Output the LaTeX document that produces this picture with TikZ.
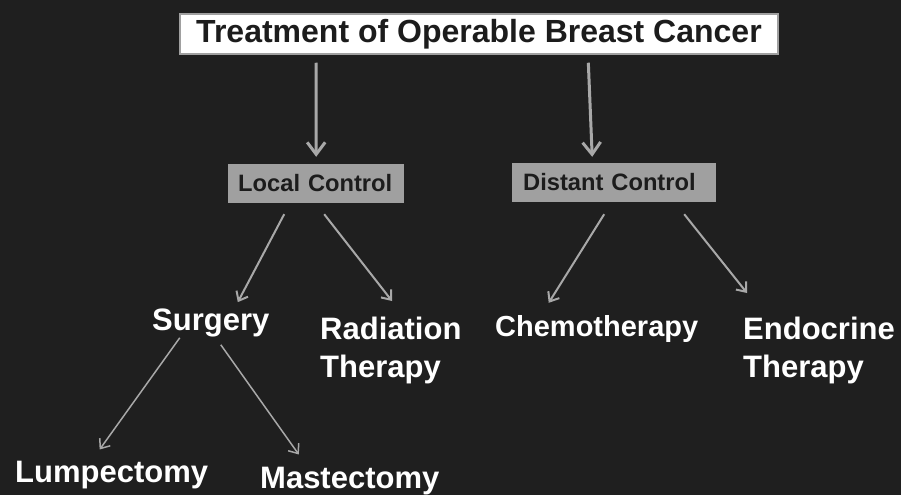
\documentclass[tikz,border=0pt]{standalone}
\usepackage{fontspec}
\setmainfont{Liberation Sans}
\usepackage{xcolor}
\usetikzlibrary{arrows.meta}

\definecolor{bgdark}{RGB}{31,31,31}
\definecolor{boxgray}{RGB}{160,160,160}
\definecolor{arrowgray}{RGB}{168,168,168}
\definecolor{inkdark}{RGB}{28,28,28}

\begin{document}
\begin{tikzpicture}[x=1pt, y=-1pt,
  titlebox/.style={draw=boxgray, line width=1.5pt, fill=white, text=inkdark, minimum width=598pt,
    minimum height=40pt, inner sep=0pt, font=\fontsize{32}{38}\selectfont\bfseries},
  ctrlbox/.style={fill=boxgray, text=inkdark, align=left, minimum height=39pt, inner ysep=0pt,
    anchor=west, font=\fontsize{23.7}{28}\selectfont\bfseries},
  lbl/.style={text=white, inner sep=0pt, align=left, font=\fontsize{31}{38}\selectfont\bfseries},
  bigarr/.style={draw=arrowgray, line width=3pt, -{Straight Barb[length=12pt,width=18pt]}},
  arr/.style={draw=arrowgray, line width=2pt, -{Straight Barb[length=8pt,width=13pt]}},
  thinarr/.style={draw=arrowgray, line width=1.5pt, -{Straight Barb[length=8pt,width=13pt]}}]
\useasboundingbox[fill=bgdark] (0,0) rectangle (901,495);

% top of the tree
\node[titlebox] (title) at (479,34) {Treatment of Operable Breast Cancer};
\node[ctrlbox, text width=156pt, inner xsep=10pt] (local) at (228,183.5) {Local Control};
\node[ctrlbox, text width=182pt, inner xsep=11pt] (distant) at (512,182.5) {Distant Control};

% treatments
\node[lbl, anchor=base west] (surgery) at (152,330) {Surgery};
\node[lbl, anchor=north west] (radiation) at (320,317) {Radiation\\Therapy};
\node[lbl, anchor=base west, font=\fontsize{29}{34}\selectfont\bfseries] (chemo) at (495,336) {Chemotherapy};
\node[lbl, anchor=north west] (endocrine) at (743,317) {Endocrine\\Therapy};
\node[lbl, anchor=base west] (lumpectomy) at (15,482) {Lumpectomy};
\node[lbl, anchor=base west] (mastectomy) at (260,488) {Mastectomy};

% connectors
\draw[bigarr, shorten <=8pt] ([xshift=-163pt]title.south) -- ([yshift=7pt]local.north);
\draw[bigarr, shorten <=8pt] ([xshift=109pt]title.south) -- ([xshift=-22pt,yshift=6pt]distant.north);
\draw[arr] ([xshift=-32pt,yshift=-11pt]local.south) -- ([xshift=27pt,yshift=6pt]surgery.north);
\draw[arr] ([xshift=8pt,yshift=-11pt]local.south) -- ([xshift=72pt,yshift=16pt]radiation.north west);
\draw[arr] ([xshift=-10pt,yshift=-12pt]distant.south) -- ([xshift=-48pt,yshift=12pt]chemo.north);
\draw[arr] ([xshift=70pt,yshift=-12pt]distant.south) -- ([xshift=4pt,yshift=24pt]endocrine.north west);
\draw[thinarr] ([xshift=-31pt,yshift=-1pt]surgery.south) -- ([xshift=-12pt,yshift=11pt]lumpectomy.north);
\draw[thinarr] ([xshift=10pt,yshift=-8pt]surgery.south) -- ([xshift=-51pt,yshift=12pt]mastectomy.north);
\end{tikzpicture}
\end{document}
